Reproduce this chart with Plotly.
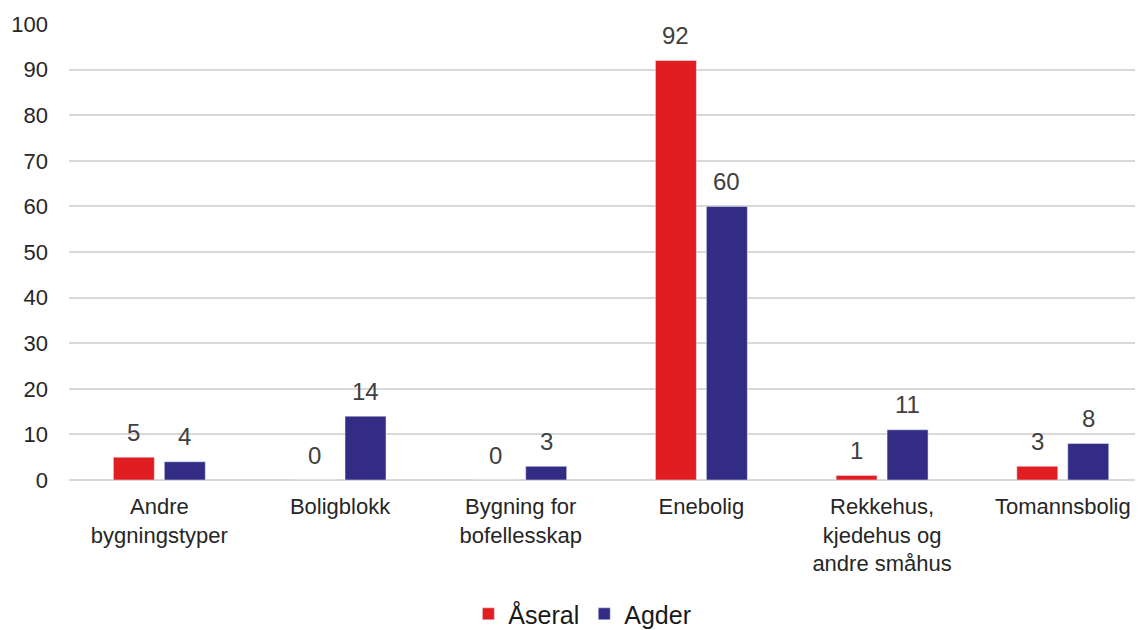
import plotly.graph_objects as go

categories = ["Andre<br>bygningstyper", "Boligblokk", "Bygning for<br>bofellesskap",
              "Enebolig", "Rekkehus,<br>kjedehus og<br>andre småhus", "Tomannsbolig"]
aseral = [5, 0, 0, 92, 1, 3]
agder = [4, 14, 3, 60, 11, 8]
y_ticks = list(range(0, 101, 10))

RED = "#E01E22"
NAVY = "#332C85"

fig = go.Figure()
fig.add_trace(go.Bar(name="Åseral", x=categories, y=aseral, marker_color=RED))
fig.add_trace(go.Bar(name="Agder", x=categories, y=agder, marker_color=NAVY))

# value labels above bars
for series, shift in ((aseral, -25.5), (agder, 25.5)):
    for cat, v in zip(categories, series):
        fig.add_annotation(x=cat, y=v, text=str(v), showarrow=False,
                           xshift=shift, yshift=25, yanchor="middle",
                           font=dict(size=24, color="#404040"))

fig.update_layout(
    width=1135, height=622,
    margin=dict(l=61, r=0, t=16, b=150, autoexpand=False),
    paper_bgcolor="white", plot_bgcolor="white",
    font=dict(family="Liberation Sans, Arial, sans-serif", size=22, color="#262626"),
    barmode="group", bargap=0.436, bargroupgap=0.196,
    showlegend=True,
    legend=dict(orientation="h", x=0.478, xanchor="center", y=-0.294, yanchor="middle",
                font=dict(size=25, color="#1a1a1a"), traceorder="normal",
                itemwidth=30),
    xaxis=dict(showgrid=False, tickfont=dict(size=22), ticks="", ticklabelstandoff=11,
               range=[-0.5, 5.444], automargin=False),
    yaxis=dict(range=[0, 100], tickvals=y_ticks, showgrid=True, gridcolor="#d9d9d9",
               gridwidth=2, zeroline=True, zerolinecolor="#d9d9d9", zerolinewidth=2,
               tickfont=dict(size=22), ticklabelstandoff=20, automargin=False),
)

fig.write_html("out.html")
